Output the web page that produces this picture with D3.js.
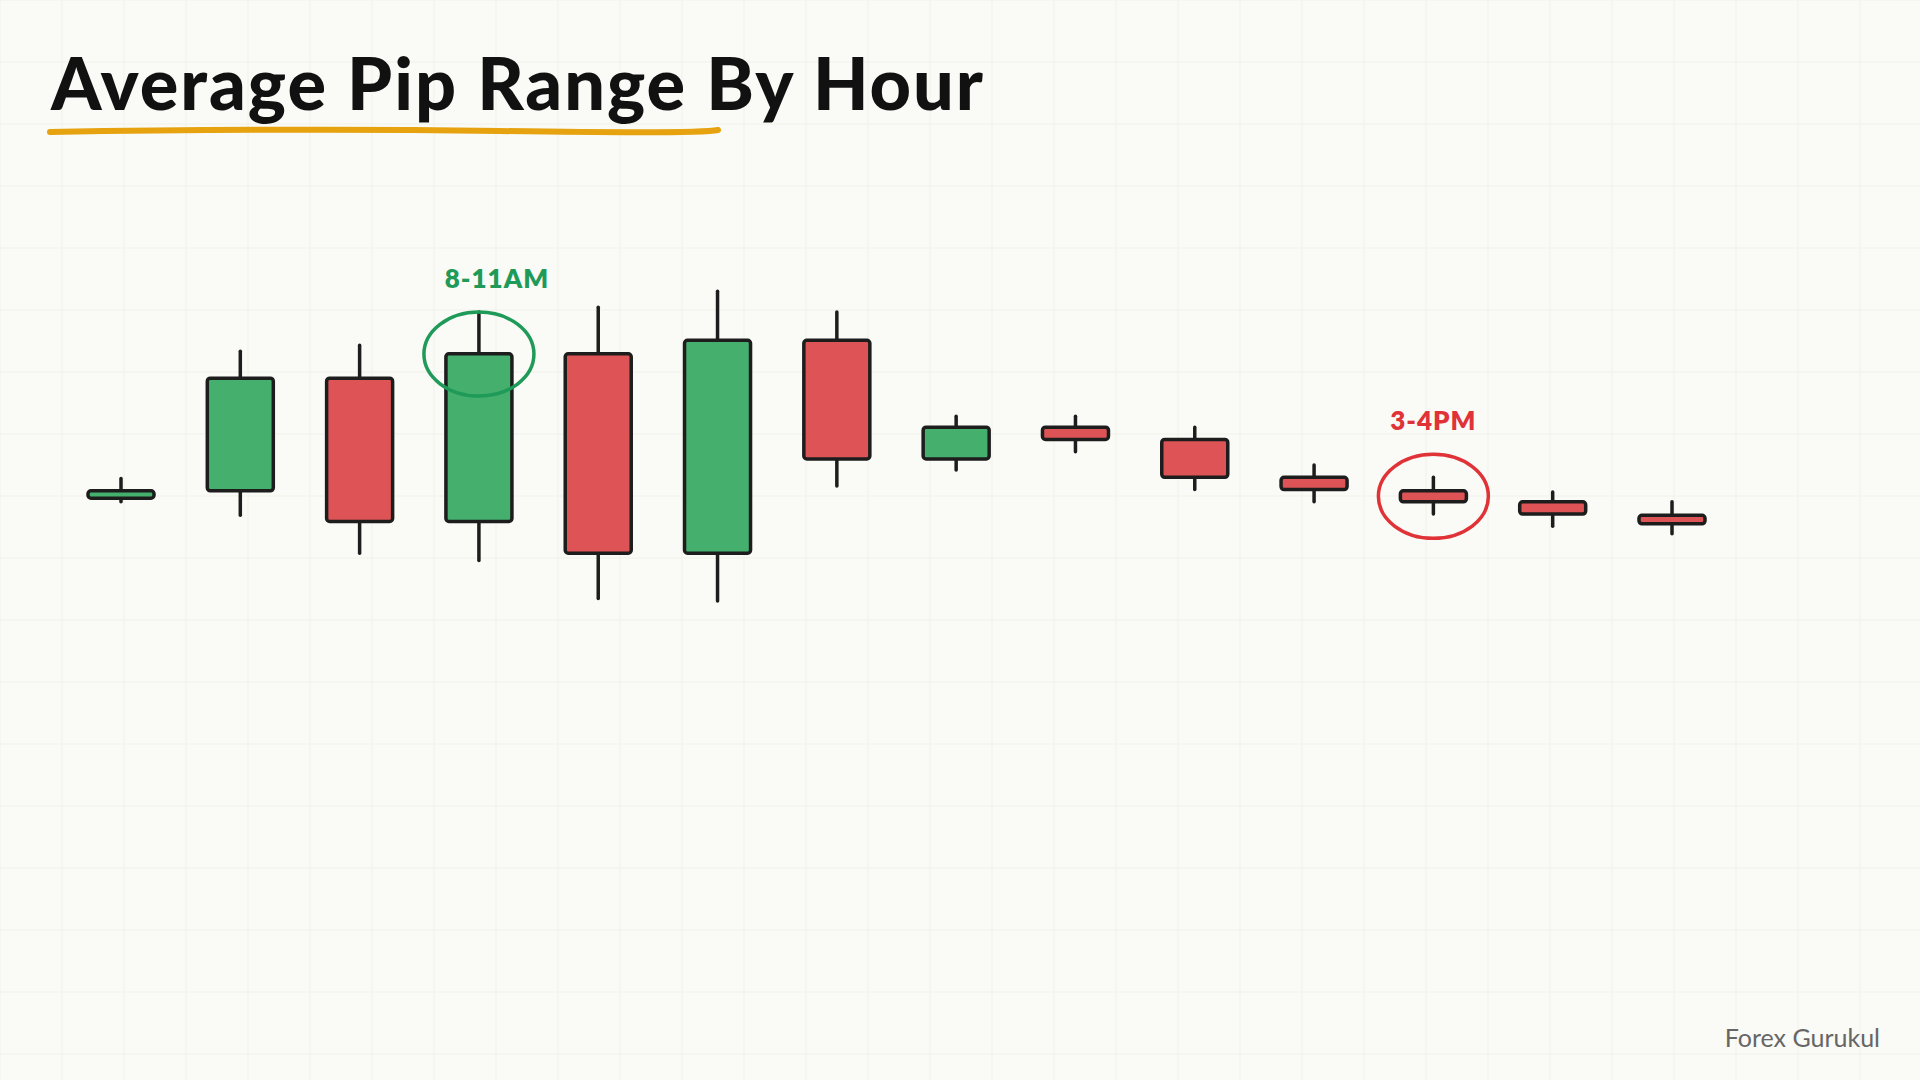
<!DOCTYPE html>
<html><head><meta charset="utf-8">
<script src="https://cdn.jsdelivr.net/npm/d3@7"></script>
<style>body{margin:0;background:#fafaf6;}svg{display:block}</style>
</head><body><svg id="c" width="1920" height="1080"></svg>
<script>
const hours = [1,2,3,4,5,6,7,8,9,10,11,12,13,14];
const opens  = [93, 99, 191, 74, 211, 48, 222, 125, 151, 141, 110, 99, 90, 79];
const closes = [99, 191, 74, 211, 48, 222, 125, 151, 141, 110, 100, 90, 80, 72];
const highs  = [109, 213, 218, 245, 249, 262, 245, 160, 160, 151, 120, 110, 98, 90];
const lows   = [90, 79, 48, 42, 11, 9, 103, 116, 131, 100, 90, 80, 70, 64];
const annotations = [{label:"8-11AM", idx:3, color:"#1f9a58"},{label:"3-4PM", idx:11, color:"#e03338"}];

const svg = d3.select("#c");
const W=1920,H=1080;
const g0 = svg.append("g");
for(let x=0;x<W;x+=62) g0.append("line").attr("x1",x).attr("x2",x).attr("y1",0).attr("y2",H).attr("stroke","#f2f2ec").attr("stroke-width",1);
for(let y=0;y<H;y+=62) g0.append("line").attr("y1",y).attr("y2",y).attr("x1",0).attr("x2",W).attr("stroke","#f2f2ec").attr("stroke-width",1);

svg.append("text").attr("x",51).attr("y",110).text("Average Pip Range By Hour")
  .attr("font-family","Lato, sans-serif").attr("font-weight","900").attr("font-size",72).attr("fill","#111").attr("letter-spacing","2");
svg.append("path").attr("d","M50,132 Q300,128 500,131 T718,130").attr("stroke","#e6a20f").attr("stroke-width",6).attr("fill","none").attr("stroke-linecap","round");

const x = d3.scalePoint().domain(hours).range([121,1672]);
const y = d3.scaleLinear().domain([0,500]).range([612,0]);
const bw = 66;
const green="#45b06e", red="#de5356", ink="#1d1d1d";
const c = svg.append("g").selectAll("g").data(hours.map((h,i)=>({h,o:opens[i],c:closes[i],hi:highs[i],lo:lows[i]}))).join("g");
c.append("line").attr("x1",d=>x(d.h)).attr("x2",d=>x(d.h)).attr("y1",d=>y(d.hi)).attr("y2",d=>y(d.lo))
  .attr("stroke",ink).attr("stroke-width",3.5).attr("stroke-linecap","round");
c.append("rect").attr("x",d=>x(d.h)-bw/2).attr("width",bw)
  .attr("y",d=>y(Math.max(d.o,d.c))).attr("height",d=>Math.max(6,Math.abs(y(d.o)-y(d.c))))
  .attr("rx",3).attr("fill",d=>d.c>=d.o?green:red).attr("stroke",ink).attr("stroke-width",3.5);

annotations.forEach(a=>{
  const h=hours[a.idx];
  const cy = a.idx===3 ? y(highs[a.idx]) + 42 : y((opens[a.idx]+closes[a.idx])/2);
  svg.append("ellipse").attr("cx",x(h)).attr("cy",cy).attr("rx",55).attr("ry",42)
    .attr("fill","none").attr("stroke",a.color).attr("stroke-width",3.5);
  svg.append("text").attr("x",x(h)+ (a.idx===3?18:0)).attr("y",cy-66).attr("text-anchor","middle").text(a.label)
    .attr("font-family","Lato, sans-serif").attr("font-weight","800").attr("font-size",26).attr("fill",a.color).attr("letter-spacing","1");
});

svg.append("text").attr("x",1880).attr("y",1047).attr("text-anchor","end").text("Forex Gurukul")
  .attr("font-family","Lato, sans-serif").attr("font-size",25).attr("fill","#666");
</script></body></html>
